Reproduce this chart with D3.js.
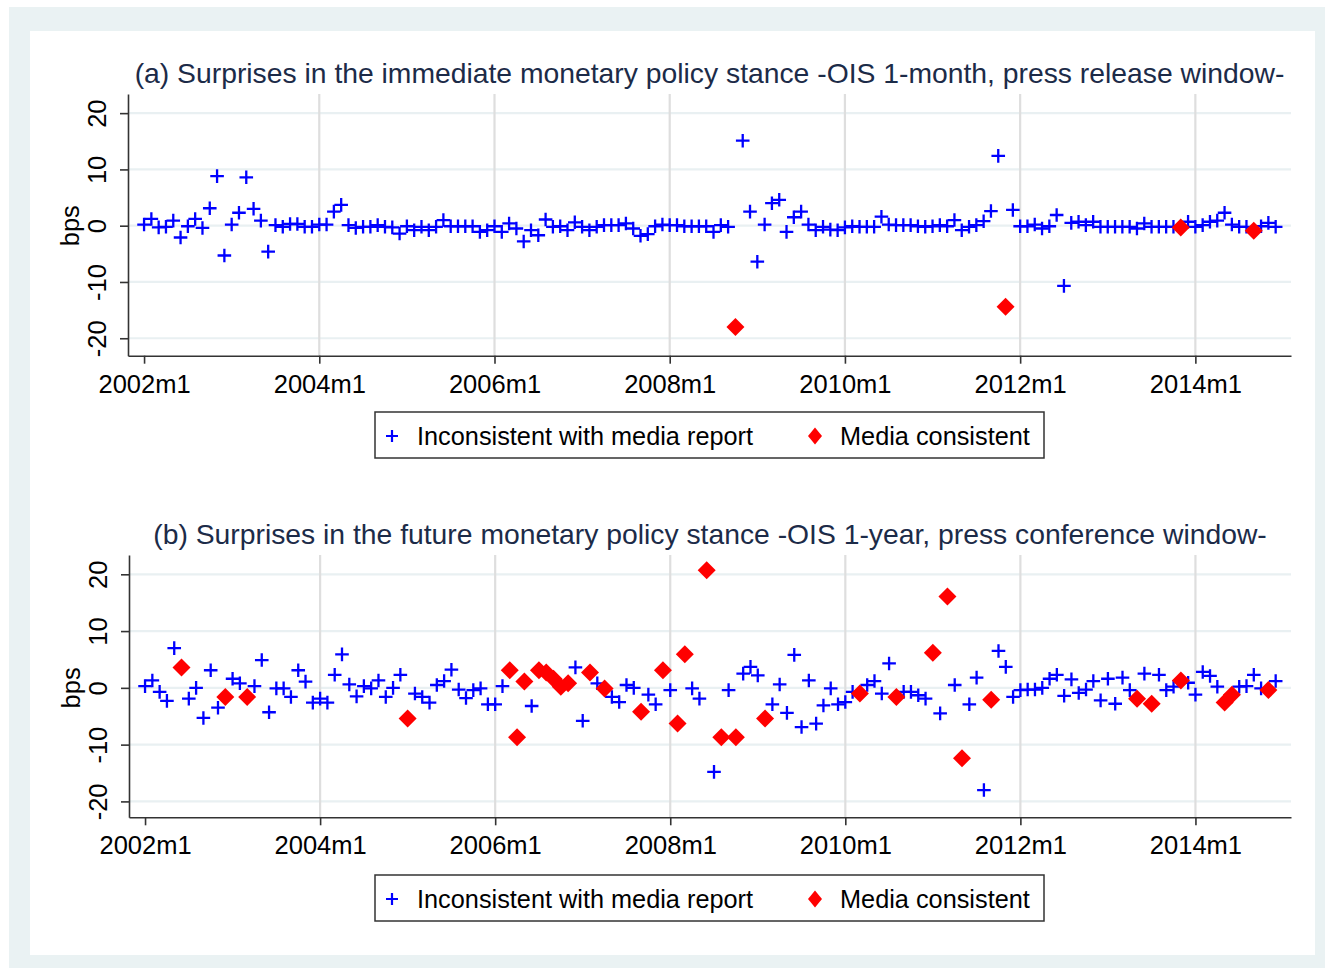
<!DOCTYPE html>
<html>
<head>
<meta charset="utf-8">
<script src="https://cdn.jsdelivr.net/npm/d3@7"></script>
<style>
  html, body { margin: 0; padding: 0; background: #ffffff; }
  svg { display: block; font-family: "Liberation Sans", Arial, sans-serif; }
</style>
</head>
<body>
<svg id="chart" width="1327" height="971"></svg>
<script>
// Monthly ECB policy surprises (bps), one value per month starting 2002m1.
const tickLabels = ["2002m1", "2004m1", "2006m1", "2008m1", "2010m1", "2012m1", "2014m1"];
const tickMonths = [0, 24, 48, 72, 96, 120, 144];
const yTicks = [-20, -10, 0, 10, 20];

// (a) OIS 1-month, press release window
const valuesA = [
  0.2, 1.2, -0.3, -0.2, 0.9, -2.1, -0.1, 1.2, -0.4, 3.1, 8.8, -5.3,
  0.2, 2.3, 8.6, 3.0, 0.9, -4.6, 0.1, -0.2, 0.3, 0.3, -0.2, -0.2,
  0.2, 0.2, 2.5, 3.7, 0.1, -0.4, -0.2, -0.2, 0.1, -0.2, -0.3, -1.4,
  -0.1, -0.8, -0.2, -0.8, -0.2, 1.0, -0.1, -0.1, -0.1, -0.1, -1.1, -0.8,
  -0.1, -1.1, 0.4, -0.5, -2.8, -0.8, -1.7, 1.1, -0.2, -0.1, -0.8, 0.6,
  -0.2, -0.8, -0.2, 0.1, 0.1, 0.1, 0.4, -0.5, -1.8, -1.5, -0.1, 0.2,
  0.1, 0.1, -0.1, -0.1, -0.1, -0.1, -1.1, 0.1, -0.2, -18.0, 15.1, 2.5,
  -6.4, 0.2, 4.0, 4.6, -1.1, 1.5, 2.5, 0.2, -0.8, -0.2, -0.7, -0.8,
  -0.3, -0.1, -0.2, -0.2, -0.2, 1.6, 0.2, 0.1, 0.1, 0.1, -0.1, -0.2,
  -0.1, 0.1, -0.1, 1.0, -0.8, -0.2, 0.1, 0.8, 2.6, 12.4, -14.4, 2.8,
  -0.1, -0.1, 0.2, -0.5, -0.1, 1.9, -10.7, 0.5, 0.7, 0.1, 0.7, -0.2,
  -0.2, -0.2, -0.2, -0.2, -0.5, 0.4, -0.2, -0.2, -0.2, -0.2, -0.3, 0.7,
  -0.2, 0.1, 0.7, 0.9, 2.3, 0.2, -0.2, -0.2, -0.9, -0.1, 0.5, -0.2
];
// months (offset from 2002m1) classified as consistent with media reports
const consistentA = [81, 118, 142, 152];

// (b) OIS 1-year, press conference window
const valuesB = [
  0.3, 1.3, -0.7, -2.3, 7.0, 3.6, -1.9, 0.0, -5.3, 3.1, -3.5, -1.6,
  1.6, 0.8, -1.6, 0.3, 4.9, -4.3, -0.1, -0.1, -1.6, 3.1, 1.1, -2.6,
  -1.9, -2.6, 2.3, 5.9, 0.6, -1.5, 0.3, -0.1, 1.3, -1.6, 0.0, 2.3,
  -5.4, -1.0, -1.6, -2.6, 0.5, 1.2, 3.2, -0.3, -1.8, -0.4, -0.1, -2.9,
  -2.9, 0.3, 3.1, -8.7, 1.1, -3.2, 3.1, 2.7, 1.6, 0.2, 0.8, 3.6,
  -5.8, 2.7, 0.8, -0.1, -1.6, -2.5, 0.5, 0.0, -4.2, -1.2, -2.9, 3.1,
  -0.4, -6.3, 5.9, -0.1, -1.9, 20.7, -14.8, -8.7, -0.4, -8.7, 2.5, 3.7,
  2.2, -5.4, -2.9, 0.6, -4.4, 5.8, -6.9, 1.3, -6.3, -3.1, -0.1, -2.9,
  -2.5, -0.7, -1.0, 0.5, 1.2, -1.0, 4.3, -1.6, -0.7, -0.7, -1.3, -1.9,
  6.2, -4.5, 16.1, 0.5, -12.4, -2.9, 1.8, -18.0, -2.1, 6.5, 3.7, -1.6,
  -0.4, -0.3, -0.3, 0.0, 1.6, 2.3, -1.4, 1.5, -0.9, -0.3, 1.2, -2.2,
  1.6, -2.8, 1.8, -0.4, -1.9, 2.5, -2.8, 2.3, -0.4, 0.2, 1.3, 0.9,
  -1.2, 2.8, 2.1, 0.2, -2.6, -1.2, 0.2, 0.3, 2.3, -0.1, -0.4, 1.2
];
const consistentB = [5, 11, 14, 36, 50, 51, 52, 54, 55, 56, 57, 58, 61, 63, 68, 71, 73, 74,
  77, 79, 81, 85, 98, 103, 108, 110, 112, 116, 136, 138, 142, 148, 149, 154];

const titleA = "(a) Surprises in the immediate monetary policy stance -OIS 1-month, press release window-";
const titleB = "(b) Surprises in the future monetary policy stance -OIS 1-year, press conference window-";
const legendLabels = ["Inconsistent with media report", "Media consistent"];

const svg = d3.select("#chart");
const FONT = "Liberation Sans, Arial, sans-serif";

// Graph region: pale bluish frame with white plot region inside
svg.append("rect").attr("x", 9).attr("y", 7).attr("width", 1316).attr("height", 961).attr("fill", "#eaf2f3");
svg.append("rect").attr("x", 30).attr("y", 31).attr("width", 1285).attr("height", 924).attr("fill", "#ffffff");

const plusPath = "M-6.8,0H6.8M0,-6.8V6.8";
const diamondPath = "M0,-9L9,0L0,9L-9,0Z";
const blue = "#0000ff", red = "#ff0000";

function drawPanel(cfg) {
  const { left, top, width, height, yDomain, values, consistent, title, legendTop } = cfg;
  const g = svg.append("g").attr("transform", `translate(${left},${top})`);

  const x = d3.scaleLinear().domain([-2.2, 157.1]).range([0, width]);
  const y = d3.scaleLinear().domain(yDomain).range([height, 0]);

  // horizontal grid
  g.append("g").selectAll("line").data(yTicks).join("line")
    .attr("x1", 0).attr("x2", width)
    .attr("y1", d => y(d)).attr("y2", d => y(d))
    .attr("stroke", "#e9f0f2").attr("stroke-width", 2.2);

  // vertical reference lines at every year label but the first
  g.append("g").selectAll("line").data(tickMonths.slice(1)).join("line")
    .attr("x1", d => x(d)).attr("x2", d => x(d))
    .attr("y1", 0).attr("y2", height)
    .attr("stroke", "#dedede").attr("stroke-width", 2.2);

  // axes
  const xAxis = d3.axisBottom(x).tickValues(tickMonths)
    .tickFormat((d, i) => tickLabels[i]).tickSize(8).tickSizeOuter(0);
  const gx = g.append("g").attr("transform", `translate(0,${height})`).call(xAxis);
  gx.select(".domain").attr("stroke", "#333").attr("stroke-width", 1.6);
  gx.selectAll(".tick line").attr("stroke", "#333").attr("stroke-width", 1.6);
  gx.selectAll(".tick text").attr("font-size", 25.5).attr("fill", "#000")
    .attr("font-family", FONT).attr("y", 37).attr("dy", null);

  const yAxis = d3.axisLeft(y).tickValues(yTicks).tickFormat(d => String(d))
    .tickSize(8).tickSizeOuter(0);
  const gy = g.append("g").call(yAxis);
  gy.select(".domain").attr("stroke", "#333").attr("stroke-width", 1.6);
  gy.selectAll(".tick line").attr("stroke", "#333").attr("stroke-width", 1.6);
  gy.selectAll(".tick text")
    .attr("font-size", 25.5).attr("fill", "#000")
    .attr("font-family", FONT)
    .attr("x", null).attr("dy", null)
    .attr("text-anchor", "middle")
    .attr("transform", "translate(-31,0) rotate(-90)")
    .attr("dominant-baseline", "central");

  g.append("text")
    .attr("transform", `translate(${-58},${y(0)}) rotate(-90)`)
    .attr("text-anchor", "middle").attr("dominant-baseline", "central")
    .attr("font-size", 25.5).attr("fill", "#000").text("bps");

  // title
  g.append("text").attr("x", width / 2).attr("y", -11.5)
    .attr("text-anchor", "middle").attr("font-size", 28.3).attr("fill", "#1c2b48")
    .text(title);

  const points = values.map((v, i) => ({ m: i, v, media: consistent.includes(i) }));

  g.append("g").selectAll("path").data(points.filter(p => !p.media)).join("path")
    .attr("d", plusPath)
    .attr("transform", p => `translate(${x(p.m)},${y(p.v)})`)
    .attr("stroke", blue).attr("stroke-width", 2.3).attr("fill", "none");

  g.append("g").selectAll("path").data(points.filter(p => p.media)).join("path")
    .attr("d", diamondPath)
    .attr("transform", p => `translate(${x(p.m)},${y(p.v)})`)
    .attr("fill", red);

  // legend
  const lg = svg.append("g").attr("transform", `translate(375,${legendTop})`);
  lg.append("rect").attr("width", 669).attr("height", 46)
    .attr("fill", "#fff").attr("stroke", "#333").attr("stroke-width", 1.5);
  lg.append("path").attr("d", "M-6,0H6M0,-6V6").attr("transform", "translate(17,24)")
    .attr("stroke", blue).attr("stroke-width", 2.2);
  lg.append("text").attr("x", 42).attr("y", 24).attr("dominant-baseline", "central")
    .attr("font-size", 25.3).attr("fill", "#000").text(legendLabels[0]);
  lg.append("path").attr("d", "M0,-8.5L7,0L0,8.5L-7,0Z").attr("transform", "translate(440,24)")
    .attr("fill", red);
  lg.append("text").attr("x", 465).attr("y", 24).attr("dominant-baseline", "central")
    .attr("font-size", 25.3).attr("fill", "#000").text(legendLabels[1]);
}

drawPanel({ left: 128, top: 94, width: 1163, height: 261.7, yDomain: [-23.1, 23.4],
  values: valuesA, consistent: consistentA, title: titleA, legendTop: 412 });
drawPanel({ left: 129, top: 555, width: 1162, height: 262.3, yDomain: [-22.8, 23.4],
  values: valuesB, consistent: consistentB, title: titleB, legendTop: 875 });
</script>
</body>
</html>
